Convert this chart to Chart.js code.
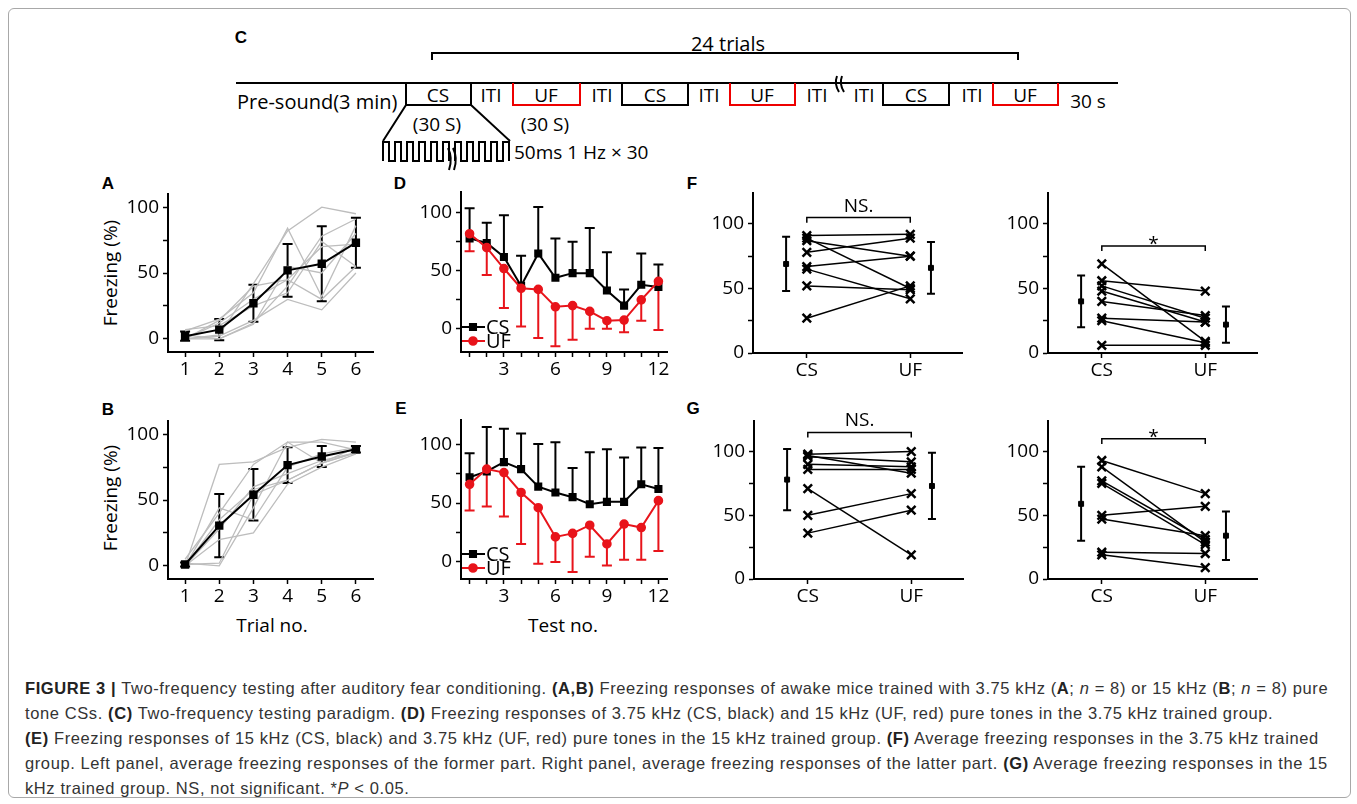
<!DOCTYPE html>
<html>
<head>
<meta charset="utf-8">
<script src="https://cdn.jsdelivr.net/npm/chart.js@4.4.1/dist/chart.umd.min.js"></script>
<style>
  html, body { margin: 0; padding: 0; background: #fff; }
  #fig { position: relative; width: 1357px; height: 804px; overflow: hidden; font-family: "Open Sans", sans-serif; }
  #frame { position: absolute; left: 8px; top: 8px; width: 1341px; height: 788px; border: 1px solid #a8a8a8; border-radius: 6px; }
  canvas { position: absolute; }
  .letter { position: absolute; font-family: "Liberation Sans", Arial, sans-serif; font-weight: bold; font-size: 17px; transform: translate(-50%, -50%); }
  .title { position: absolute; font-size: 19px; white-space: nowrap; transform: translate(-50%, -50%); }
  .rot { transform: translate(-50%, -50%) rotate(-90deg); }
  #caption { position: absolute; left: 25px; top: 676px; font-family: "Liberation Sans", Arial, sans-serif; font-size: 16.5px; letter-spacing: 0.6px; line-height: 25px; color: #333; white-space: nowrap; }
  #caption b { color: #222; }
</style>
</head>
<body>
<div id="fig">
  <div id="frame"></div>

  <svg width="1357" height="175" style="position:absolute;left:0;top:0" font-family="Open Sans" font-size="19">
    <text x="241" y="37" font-family="Liberation Sans" font-weight="bold" font-size="17" text-anchor="middle" dominant-baseline="central">C</text>
    <text x="728" y="43" font-size="20" text-anchor="middle" dominant-baseline="central">24 trials</text>
    <path d="M432 60 V53 H1018 V60" stroke="#000" stroke-width="2" fill="none"/>
    <line x1="236" y1="83" x2="1118" y2="83" stroke="#000" stroke-width="2"/>
    <g fill="none" stroke-width="2">
      <path d="M406 83 V105 H471 V83" stroke="#000"/>
      <path d="M513 83 V105 H580 V83" stroke="#e00"/>
      <path d="M622 83 V105 H688 V83" stroke="#000"/>
      <path d="M730 83 V105 H795 V83" stroke="#e00"/>
      <path d="M883 83 V105 H949 V83" stroke="#000"/>
      <path d="M993 83 V105 H1058 V83" stroke="#e00"/>
      <path d="M837 76 Q834 84 839 92 M842 76 Q839 84 844 92" stroke="#000"/>
      <path d="M406 105 L383 141 M471 105 L510 141" stroke="#000"/>
      <path d="M383 161 V142 H389 V161 H395 V142 H401 V161 H407 V142 H413 V161 H419 V142 H425 V161 H431 V142 H437 V161 H443 V142 H449 V161" stroke="#000"/>
      <path d="M455 161 V142 H461 V161 H467 V142 H473 V161 H479 V142 H485 V161 H491 V142 H497 V161 H503 V142 H509 V161" stroke="#000"/>
      <path d="M448 148 Q453 158 449 170 M453 148 Q458 158 454 170" stroke="#000"/>
    </g>
    <g text-anchor="middle" dominant-baseline="central">
      <text x="438" y="95">CS</text>
      <text x="546" y="95">UF</text>
      <text x="655" y="95">CS</text>
      <text x="762" y="95">UF</text>
      <text x="916" y="95">CS</text>
      <text x="1025" y="95">UF</text>
      <text x="491" y="95">ITI</text>
      <text x="602" y="95">ITI</text>
      <text x="709" y="95">ITI</text>
      <text x="817" y="95">ITI</text>
      <text x="864" y="95">ITI</text>
      <text x="972" y="95">ITI</text>
      <text x="1088" y="101">30 s</text>
      <text x="437" y="124">(30 S)</text>
      <text x="545" y="124">(30 S)</text>
    </g>
    <text x="237" y="101" font-size="20" dominant-baseline="central">Pre-sound(3 min)</text>
    <text x="514" y="152" dominant-baseline="central">50ms 1 Hz × 30</text>
  </svg>

  <div class="letter" style="left:108px;top:184px">A</div>
  <div class="letter" style="left:108px;top:410px">B</div>
  <div class="letter" style="left:400px;top:184px">D</div>
  <div class="letter" style="left:401px;top:409px">E</div>
  <div class="letter" style="left:692px;top:184px">F</div>
  <div class="letter" style="left:693px;top:409px">G</div>
  <div class="title rot" style="left:110px;top:273px">Freezing (%)</div>
  <div class="title rot" style="left:110px;top:498px">Freezing (%)</div>
  <div class="title" style="left:272px;top:625px">Trial no.</div>
  <div class="title" style="left:563px;top:625px">Test no.</div>

  <div id="caption"><b>FIGURE 3 |</b> Two-frequency testing after auditory fear conditioning. <b>(A,B)</b> Freezing responses of awake mice trained with 3.75 kHz (<b>A</b>; <i>n</i> = 8) or 15 kHz (<b>B</b>; <i>n</i> = 8) pure<br>tone CSs. <b>(C)</b> Two-frequency testing paradigm. <b>(D)</b> Freezing responses of 3.75 kHz (CS, black) and 15 kHz (UF, red) pure tones in the 3.75 kHz trained group.<br><b>(E)</b> Freezing responses of 15 kHz (CS, black) and 3.75 kHz (UF, red) pure tones in the 15 kHz trained group. <b>(F)</b> Average freezing responses in the 3.75 kHz trained<br>group. Left panel, average freezing responses of the former part. Right panel, average freezing responses of the latter part. <b>(G)</b> Average freezing responses in the 15<br>kHz trained group. NS, not significant. *<i>P</i> &lt; 0.05.</div>
</div>

<script>
// ---------- data ----------
const trialNo = [1, 2, 3, 4, 5, 6];
const testNo = [1, 2, 3, 4, 5, 6, 7, 8, 9, 10, 11, 12];
const testLabels = ['', '', '3', '', '', '6', '', '', '9', '', '', '12'];
const groups = ['CS', 'UF'];
const freezeTicks = [0, 25, 50, 75, 100];
const freezeLabels = ['0', '', '50', '', '100'];

// A: 3.75 kHz trained, mean +/- sd and single mice
const aMean = [2, 7, 27, 52, 57, 73];
const aErr = [3.5, 8, 14, 20, 28.5, 19];
const aMice = [
  [0, 3, 42, 82, 100, 95],
  [6, 15, 35, 84, 32, 86],
  [0, 0, 12, 40, 78, 91],
  [0, 12, 30, 45, 70, 72],
  [7, 10, 25, 35, 74, 55],
  [0, 2, 14, 30, 22, 50],
  [3, 0, 11, 55, 50, 80],
  [0, 14, 40, 45, 30, 55]
];

// B: 15 kHz trained
const bMean = [1, 30.5, 54, 76.5, 83, 88.5];
const bErr = [1.5, 24, 19.5, 13.5, 8, 2.5];
const bMice = [
  [0, 77, 79, 90, 96, 94],
  [0, 44, 35, 75, 85, 90],
  [5, 40, 77, 94, 94, 88],
  [0, 28, 60, 70, 80, 86],
  [0, 20, 25, 62, 75, 85],
  [2, 0, 44, 94, 78, 90],
  [0, 35, 58, 65, 78, 86],
  [1, 2, 54, 65, 78, 86]
];

// D: 3.75 kHz trained group, CS (black) and UF (red)
const dCS = [78, 74, 62, 37, 65, 44, 48, 48, 33, 20, 38, 36];
const dCSErr = [26, 17.5, 36, 26, 40, 34, 27, 39, 33, 14, 27, 19.5];
const dUF = [82, 70, 52, 35, 34, 19, 20, 15, 7, 7.5, 25, 41];
const dUFErr = [15, 23.5, 34, 33, 42, 34, 29.5, 15, 7, 10.5, 18, 42];

// E: 15 kHz trained group
const eCS = [72, 77, 85, 79, 64, 59, 55, 49, 51, 51, 66, 62];
const eCSErr = [20.5, 38, 28.5, 30.5, 36.5, 43, 25, 44.5, 45, 38, 31.5, 35];
const eUF = [66, 79, 76, 59, 46, 21, 24, 31, 15, 32, 29, 52];
const eUFErr = [22.5, 32, 37.5, 44, 48, 21.5, 33, 27, 18.5, 30.5, 27.5, 43];

// F: 3.75 kHz trained, former / latter part (per mouse)
const fFormerCS = [91, 89, 87, 78, 67, 65, 52, 27];
const fFormerUF = [92, 50, 75, 89, 75, 42, 49, 52];
const fFormerMean = [69, 66];
const fFormerSD = [21, 20];
const fLatterCS = [69, 56, 52, 48, 40, 27, 25, 6];
const fLatterUF = [9, 48, 27, 24, 29, 24, 8, 6];
const fLatterMean = [40, 22];
const fLatterSD = [20, 14];

// G: 15 kHz trained
const gFormerCS = [98, 97, 96, 90, 86, 71, 50, 36];
const gFormerUF = [100, 83, 92, 88, 86, 19, 67, 54];
const gFormerMean = [78, 73];
const gFormerSD = [24, 26];
const gLatterCS = [93, 88, 77, 75, 50, 47, 21, 19];
const gLatterUF = [67, 29, 31, 27, 57, 34, 20, 9];
const gLatterMean = [59, 34];
const gLatterSD = [29, 19];

// ---------- plugins ----------
const RED = '#e8141b';
const tickFont = { family: 'Open Sans', size: 19 };

// vertical error bars drawn through the y scale
const errorBars = {
  id: 'errorBars',
  beforeDatasetsDraw(chart) {
    const ctx = chart.ctx, ys = chart.scales.y, xs = chart.scales.x;
    chart.data.datasets.forEach((ds) => {
      if (!ds.errs) return;
      ctx.save();
      ctx.strokeStyle = ds.borderColor;
      ctx.lineWidth = 2;
      ds.data.forEach((p, j) => {
        const e = ds.errs[j];
        const px = xs.getPixelForValue(p.x);
        const hi = ys.getPixelForValue(p.y + (ds.errDir === 'down' ? 0 : e));
        const lo = ys.getPixelForValue(p.y - (ds.errDir === 'up' ? 0 : e));
        const w = ds.capW || 5;
        ctx.beginPath();
        ctx.moveTo(px, hi); ctx.lineTo(px, lo);
        if (ds.errDir !== 'down') { ctx.moveTo(px - w, hi); ctx.lineTo(px + w, hi); }
        if (ds.errDir !== 'up') { ctx.moveTo(px - w, lo); ctx.lineTo(px + w, lo); }
        ctx.stroke();
      });
      ctx.restore();
    });
  }
};

// CS / UF key in the lower left corner of D and E
const cornerKey = {
  id: 'cornerKey',
  afterDraw(chart) {
    const ctx = chart.ctx, a = chart.chartArea;
    chart.data.datasets.slice(0, 2).reverse().forEach((ds, i) => {
      const y = a.bottom - (i === 0 ? 25 : 11);
      ctx.save();
      ctx.strokeStyle = ds.borderColor; ctx.fillStyle = ds.borderColor; ctx.lineWidth = 2;
      ctx.beginPath(); ctx.moveTo(a.left + 1, y); ctx.lineTo(a.left + 24, y); ctx.stroke();
      Chart.helpers.drawPoint(ctx, { pointStyle: ds.pointStyle, radius: ds.pointRadius, borderWidth: 1 }, a.left + 12, y);
      ctx.fillStyle = '#000';
      ctx.font = '20px "Open Sans"';
      ctx.textBaseline = 'middle';
      ctx.fillText(ds.label, a.left + 25, y + 1);
      ctx.restore();
    });
  }
};

// significance bracket between CS and UF
const bracket = {
  id: 'bracket',
  afterDatasetsDraw(chart, args, o) {
    const ctx = chart.ctx, xs = chart.scales.x, ys = chart.scales.y;
    const x1 = xs.getPixelForValue(1), x2 = xs.getPixelForValue(2);
    const yy = ys.getPixelForValue(o.at), yd = ys.getPixelForValue(o.at - o.drop);
    ctx.save();
    ctx.strokeStyle = '#000'; ctx.lineWidth = 1.5;
    ctx.beginPath();
    ctx.moveTo(x1, yd); ctx.lineTo(x1, yy); ctx.lineTo(x2, yy); ctx.lineTo(x2, yd);
    ctx.stroke();
    ctx.fillStyle = '#000';
    ctx.font = '19px "Open Sans"';
    ctx.textAlign = 'center';
    ctx.textBaseline = 'alphabetic';
    ctx.fillText(o.label, (x1 + x2) / 2, yy - o.gap);
    ctx.restore();
  }
};

// ---------- helpers ----------
const YW = 62, XH = 32, PT = 20, PR = 16;

function pts(xs, ys) { return xs.map((x, i) => ({ x: x, y: ys[i] })); }

function panel(box, yMin, yMax, xMin, xMax, xTicks, xLabel, datasets, extra) {
  const c = document.createElement('canvas');
  const w = box.r - box.l + YW + PR, h = box.b - box.t + PT + XH;
  c.width = w; c.height = h;
  c.style.left = (box.l - YW) + 'px';
  c.style.top = (box.t - PT) + 'px';
  c.style.width = w + 'px'; c.style.height = h + 'px';
  document.getElementById('fig').appendChild(c);
  const axis = {
    grid: { drawOnChartArea: false, tickLength: 5, tickColor: '#000', tickWidth: 1.5 },
    border: { color: '#000', width: 2 },
    ticks: { color: '#000', font: tickFont, autoSkip: false, maxRotation: 0 }
  };
  new Chart(c, {
    type: 'scatter',
    data: { datasets: datasets },
    options: {
      responsive: false, animation: false, events: [],
      layout: { padding: { top: PT, right: PR, left: 0, bottom: 0 } },
      plugins: Object.assign({ legend: { display: false }, tooltip: { enabled: false } }, extra.opts || {}),
      scales: {
        x: Object.assign({}, axis, {
          type: 'linear', min: xMin, max: xMax,
          afterBuildTicks: s => { s.ticks = xTicks.map(v => ({ value: v })); },
          afterFit: s => { s.height = XH; },
          ticks: Object.assign({}, axis.ticks, { padding: 1, callback: (v, i) => xLabel[i] })
        }),
        y: Object.assign({}, axis, {
          type: 'linear', min: yMin, max: yMax,
          afterBuildTicks: s => { s.ticks = freezeTicks.map(v => ({ value: v })); },
          afterFit: s => { s.width = YW; },
          ticks: Object.assign({}, axis.ticks, { padding: 4, callback: (v, i) => freezeLabels[i] })
        })
      }
    },
    plugins: [errorBars].concat(extra.plugins || [])
  });
}

function trainingSets(mean, err, mice) {
  const sets = [{
    data: pts(trialNo, mean), errs: err, errDir: 'both', capW: 5,
    showLine: true, borderColor: '#000', backgroundColor: '#000', borderWidth: 2,
    pointStyle: 'rect', pointRadius: 4.5
  }];
  mice.forEach(m => sets.push({
    data: pts(trialNo, m), showLine: true, borderColor: '#bdbdbd', borderWidth: 1.3, pointRadius: 0
  }));
  return sets;
}

function testSets(cs, csErr, uf, ufErr) {
  return [
    { label: groups[1], data: pts(testNo, uf), errs: ufErr, errDir: 'down', capW: 5,
      showLine: true, borderColor: RED, backgroundColor: RED, borderWidth: 2,
      pointStyle: 'circle', pointRadius: 3.8 },
    { label: groups[0], data: pts(testNo, cs), errs: csErr, errDir: 'up', capW: 5,
      showLine: true, borderColor: '#000', backgroundColor: '#000', borderWidth: 2,
      pointStyle: 'rect', pointRadius: 4.3 }
  ];
}

function pairSets(cs, uf, mean, sd) {
  const sets = [{
    data: [{ x: 1 - 0.2, y: mean[0] }, { x: 2 + 0.2, y: mean[1] }],
    errs: sd, errDir: 'both', capW: 4,
    borderColor: '#000', backgroundColor: '#000', pointStyle: 'rect', pointRadius: 3.5
  }];
  cs.forEach((v, i) => sets.push({
    data: [{ x: 1, y: v }, { x: 2, y: uf[i] }], showLine: true,
    borderColor: '#000', backgroundColor: '#000', borderWidth: 1.5,
    pointStyle: 'crossRot', pointRadius: 6, pointBorderWidth: 2.5
  }));
  return sets;
}

// ---------- panels ----------
panel({ l: 168, t: 194, r: 373, b: 352 }, -10, 110, 0.5, 6.5, trialNo, trialNo.map(String),
  trainingSets(aMean, aErr, aMice), {});
panel({ l: 168, t: 421, r: 373, b: 579 }, -10, 110, 0.5, 6.5, trialNo, trialNo.map(String),
  trainingSets(bMean, bErr, bMice), {});

panel({ l: 461, t: 192, r: 667, b: 352 }, -20, 118, 0.5, 12.5, testNo, testLabels,
  testSets(dCS, dCSErr, dUF, dUFErr), { plugins: [cornerKey] });
panel({ l: 461, t: 420, r: 667, b: 579 }, -15, 121, 0.5, 12.5, testNo, testLabels,
  testSets(eCS, eCSErr, eUF, eUFErr), { plugins: [cornerKey] });

panel({ l: 753, t: 193, r: 962, b: 353 }, 0, 124, 0.48, 2.5, [1, 2], groups,
  pairSets(fFormerCS, fFormerUF, fFormerMean, fFormerSD),
  { plugins: [bracket], opts: { bracket: { at: 105, drop: 4, label: 'NS.', gap: 6 } } });
panel({ l: 1048, t: 193, r: 1257, b: 353 }, 0, 124, 0.48, 2.5, [1, 2], groups,
  pairSets(fLatterCS, fLatterUF, fLatterMean, fLatterSD),
  { plugins: [bracket], opts: { bracket: { at: 83, drop: 4, label: '*', gap: -4 } } });

panel({ l: 754, t: 421, r: 963, b: 579 }, 0, 124, 0.48, 2.5, [1, 2], groups,
  pairSets(gFormerCS, gFormerUF, gFormerMean, gFormerSD),
  { plugins: [bracket], opts: { bracket: { at: 115, drop: 4, label: 'NS.', gap: 6 } } });
panel({ l: 1048, t: 421, r: 1257, b: 579 }, 0, 124, 0.48, 2.5, [1, 2], groups,
  pairSets(gLatterCS, gLatterUF, gLatterMean, gLatterSD),
  { plugins: [bracket], opts: { bracket: { at: 110, drop: 4, label: '*', gap: -4 } } });
</script>
</body>
</html>
